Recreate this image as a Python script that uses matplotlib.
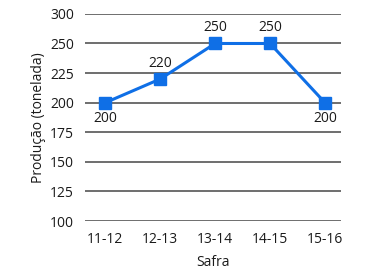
import matplotlib.pyplot as plt

safras = ['11-12', '12-13', '13-14', '14-15', '15-16']
producao = [200, 220, 250, 250, 200]
label_pos = ['below', 'above', 'above', 'above', 'below']

# the original axis is printed with 275 missing: gridlines are evenly spaced
# but the top one is labelled 300
yticks = [100, 125, 150, 175, 200, 225, 250, 275]
ytick_labels = ['100', '125', '150', '175', '200', '225', '250', '300']

plt.rcParams['font.family'] = ['Open Sans', 'DejaVu Sans']

fig = plt.figure(figsize=(3.9, 2.78), dpi=100)
ax = fig.add_axes([0.218, 0.205, 0.656, 0.745])

x = list(range(len(safras)))
ax.plot(x, producao, color='#0f6fe6', lw=2.2, marker='s', markersize=8,
        clip_on=False, zorder=3)

for xi, v, pos in zip(x, producao, label_pos):
    if pos == 'above':
        ax.annotate(str(v), (xi, v), xytext=(0, 6), textcoords='offset points',
                    ha='center', va='bottom', fontsize=10, color='#1a1a1a')
    else:
        ax.annotate(str(v), (xi, v), xytext=(0, -6), textcoords='offset points',
                    ha='center', va='top', fontsize=10, color='#1a1a1a')

ax.set_xlim(-0.37, 4.29)
ax.set_ylim(100, 275)
ax.set_yticks(yticks)
ax.set_yticklabels(ytick_labels)
ax.set_xticks(x)
ax.set_xticklabels(safras)
ax.grid(axis='y', color='#555555', lw=1.2)
ax.set_axisbelow(True)
for s in ax.spines.values():
    s.set_visible(False)
ax.tick_params(length=0, labelsize=10, colors='#1a1a1a', pad=8)
ax.set_xlabel('Safra', fontsize=10, color='#1a1a1a', labelpad=6)
ax.set_ylabel('Produção (tonelada)', fontsize=10, color='#1a1a1a', labelpad=3)

fig.savefig('out.png', dpi=100, facecolor='white')
